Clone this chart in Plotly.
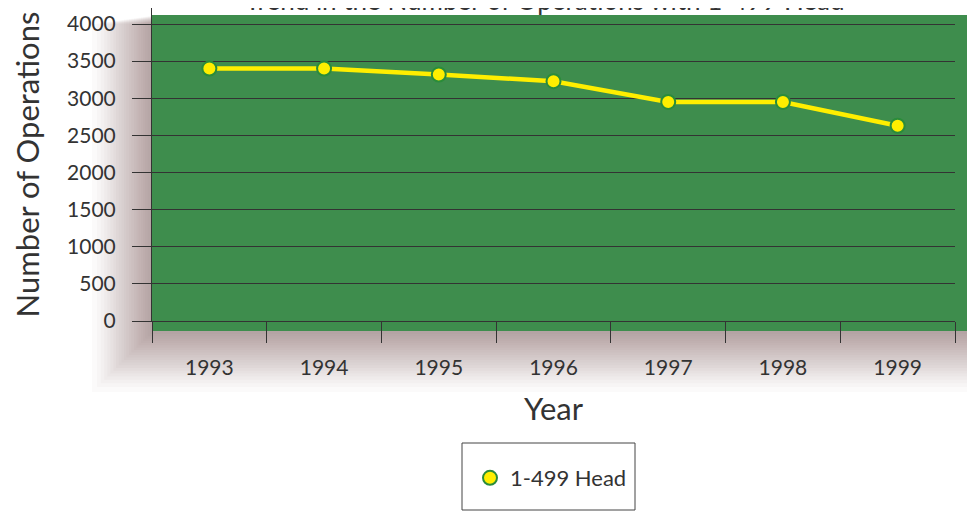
import plotly.graph_objects as go

# values
years = ["1993", "1994", "1995", "1996", "1997", "1998", "1999"]
operations = [3400, 3400, 3320, 3230, 2950, 2950, 2630]
series_name = "1-499 Head"
title_text = "Trend in the Number of Operations with 1-499 Head"

font_family = "Lato, 'Open Sans', sans-serif"
ink = "#333333"
green = "#3e8d4d"

# the page body has an 8px margin, so the figure is 8px smaller and coordinates shift by 8
W, H = 967, 504
plot_h = 313


def px(x):
    return (x - 152) / 803


def py(y):
    return (321 - y) / plot_h


fig = go.Figure()

# yellow line, markers drawn as a separate trace so the legend shows only the dot
fig.add_trace(go.Scatter(
    x=years, y=operations, mode="lines",
    line=dict(color="#ffee00", width=4.5),
    showlegend=False, hoverinfo="skip",
))
fig.add_trace(go.Scatter(
    x=years, y=operations, mode="markers", name=series_name,
    marker=dict(size=14, color="#ffee00", line=dict(color="#2a8c3a", width=2)),
))

shapes = []
# soft grey shadow behind the green panel
n = 22
outer = (px(92), px(975), py(392), py(24))
inner = (px(150), px(975), py(334), py(16))
for i in range(n):
    t = (i / (n - 1)) ** 0.8
    x0 = outer[0] + (inner[0] - outer[0]) * t
    x1 = outer[1] + (inner[1] - outer[1]) * t
    y0 = outer[2] + (inner[2] - outer[2]) * t
    y1 = outer[3] + (inner[3] - outer[3]) * t
    shapes.append(dict(type="rect", xref="paper", yref="paper", x0=x0, x1=x1, y0=y0, y1=y1,
                       fillcolor="rgba(105,90,90,0.028)", line=dict(width=0), layer="below"))
# green panel
shapes.append(dict(type="rect", xref="paper", yref="paper",
                   x0=px(152), x1=px(975), y0=py(331), y1=py(15),
                   fillcolor=green, line=dict(width=0), layer="below"))
# legend frame
shapes.append(dict(type="rect", xref="paper", yref="paper",
                   x0=px(462), x1=px(635), y0=py(510), y1=py(443),
                   fillcolor="white", line=dict(color="#444444", width=1), layer="below"))

fig.update_layout(
    width=W, height=H,
    margin=dict(l=144, r=20, t=0, b=H - 313),
    paper_bgcolor="white",
    plot_bgcolor="rgba(0,0,0,0)",
    font=dict(family=font_family, color=ink),
    shapes=shapes,
    showlegend=True,
    legend=dict(
        x=px(470), xanchor="left",
        y=py(478), yanchor="middle",
        bgcolor="rgba(0,0,0,0)", borderwidth=0,
        font=dict(size=22, color=ink),
    ),
    # title sits almost entirely above the top edge, as in the reference
    annotations=[dict(
        text=title_text, xref="paper", yref="paper", x=px(545), y=1.0,
        xanchor="center", yanchor="bottom", showarrow=False, yshift=-10,
        font=dict(size=26, color=ink),
    )],
)

fig.update_xaxes(
    type="category", range=[-0.5, 6.5],
    tickson="boundaries", ticks="outside", ticklen=21, tickcolor=ink, tickwidth=1,
    showline=True, linecolor=ink, linewidth=1,
    showgrid=False,
    tickfont=dict(size=21, color=ink),
    ticklabelstandoff=28,
    title=dict(text="Year", font=dict(size=31, color=ink), standoff=20),
)
fig.update_yaxes(
    range=[0, 4000 * 313 / 297], dtick=500,
    ticks="outside", ticklen=19, tickcolor=ink, tickwidth=1,
    showline=True, linecolor=ink, linewidth=1,
    showgrid=True, gridcolor=ink, gridwidth=1,
    zeroline=False,
    tickfont=dict(size=21, color=ink),
    ticklabelstandoff=12,
    title=dict(text="Number of Operations", font=dict(size=31, color=ink), standoff=28),
)

fig.write_html("out.html")
